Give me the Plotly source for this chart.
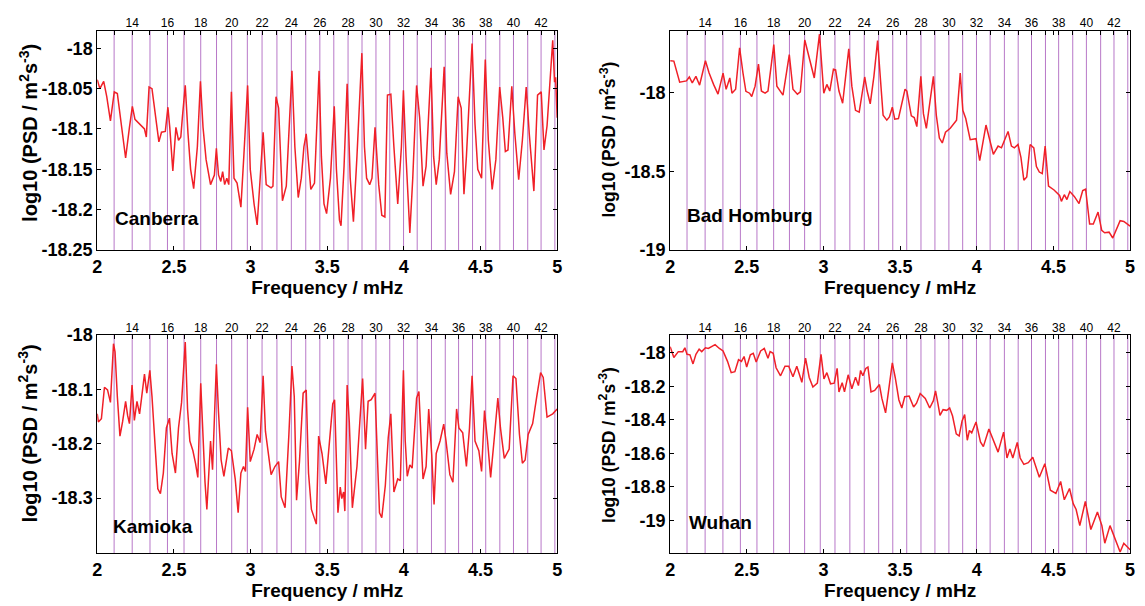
import plotly.graph_objects as go

# ---------------- data ----------------
mode_freqs = [2.110, 2.228, 2.344, 2.458, 2.566, 2.675, 2.778, 2.877, 2.979, 3.075,
              3.172, 3.266, 3.360, 3.452, 3.543, 3.636, 3.727, 3.818, 3.908, 3.998,
              4.087, 4.180, 4.270, 4.357, 4.448, 4.534, 4.626, 4.715, 4.808, 4.895, 4.985]
mode_labels = ["", "14", "", "16", "", "18", "", "20", "", "22", "", "24", "", "26", "",
               "28", "", "30", "", "32", "", "34", "", "36", "", "38", "", "40", "", "42", ""]

x_tick_vals = [2, 2.5, 3, 3.5, 4, 4.5, 5]
x_tick_text = ["2", "2.5", "3", "3.5", "4", "4.5", "5"]

canberra = [
    (2.000, -18.039), (2.017, -18.050), (2.042, -18.041), (2.062, -18.060), (2.086, -18.090),
    (2.111, -18.054), (2.131, -18.056), (2.160, -18.098), (2.185, -18.136), (2.210, -18.098),
    (2.229, -18.072), (2.246, -18.088), (2.283, -18.096), (2.308, -18.100), (2.320, -18.110),
    (2.338, -18.048), (2.357, -18.050), (2.382, -18.086), (2.402, -18.116), (2.419, -18.104),
    (2.444, -18.103), (2.461, -18.073), (2.473, -18.098), (2.493, -18.152), (2.513, -18.098),
    (2.530, -18.114), (2.545, -18.110), (2.555, -18.086), (2.574, -18.046), (2.592, -18.106),
    (2.609, -18.150), (2.629, -18.174), (2.653, -18.122), (2.673, -18.041), (2.690, -18.098),
    (2.710, -18.138), (2.739, -18.169), (2.764, -18.157), (2.777, -18.124), (2.791, -18.157),
    (2.806, -18.165), (2.818, -18.153), (2.831, -18.169), (2.845, -18.161), (2.858, -18.169),
    (2.875, -18.054), (2.892, -18.161), (2.912, -18.167), (2.937, -18.197), (2.956, -18.134),
    (2.981, -18.046), (2.998, -18.150), (3.023, -18.193), (3.043, -18.219), (3.062, -18.165),
    (3.082, -18.104), (3.102, -18.169), (3.134, -18.173), (3.146, -18.171), (3.166, -18.060),
    (3.183, -18.074), (3.208, -18.189), (3.233, -18.171), (3.250, -18.106), (3.270, -18.028),
    (3.289, -18.122), (3.311, -18.185), (3.331, -18.161), (3.348, -18.122), (3.363, -18.106),
    (3.375, -18.138), (3.393, -18.175), (3.417, -18.167), (3.447, -18.028), (3.462, -18.134),
    (3.479, -18.193), (3.496, -18.205), (3.521, -18.161), (3.546, -18.072), (3.560, -18.150),
    (3.580, -18.213), (3.590, -18.220), (3.610, -18.146), (3.630, -18.044), (3.650, -18.161),
    (3.671, -18.215), (3.694, -18.134), (3.726, -18.006), (3.743, -18.122), (3.757, -18.161),
    (3.777, -18.169), (3.792, -18.161), (3.812, -18.098), (3.836, -18.169), (3.856, -18.207),
    (3.876, -18.209), (3.893, -18.058), (3.915, -18.057), (3.935, -18.122), (3.960, -18.193),
    (3.984, -18.122), (3.997, -18.052), (4.014, -18.134), (4.039, -18.229), (4.058, -18.161),
    (4.083, -18.046), (4.103, -18.086), (4.125, -18.171), (4.145, -18.146), (4.177, -18.024),
    (4.194, -18.134), (4.211, -18.169), (4.231, -18.138), (4.263, -18.023), (4.280, -18.130),
    (4.305, -18.181), (4.330, -18.153), (4.354, -18.060), (4.374, -18.074), (4.392, -18.181),
    (4.408, -18.134), (4.445, -17.994), (4.464, -18.094), (4.482, -18.150), (4.507, -18.161),
    (4.531, -18.014), (4.551, -18.114), (4.576, -18.175), (4.600, -18.138), (4.625, -18.048),
    (4.645, -18.086), (4.662, -18.128), (4.679, -18.126), (4.704, -18.047), (4.724, -18.106),
    (4.749, -18.163), (4.773, -18.114), (4.798, -18.048), (4.818, -18.106), (4.848, -18.177),
    (4.872, -18.058), (4.896, -18.054), (4.914, -18.126), (4.934, -18.096), (4.971, -17.990),
    (4.983, -18.042), (4.990, -18.036), (5.000, -18.086),
]

bad_homburg = [
    (2.000, -17.798), (2.024, -17.800), (2.062, -17.934), (2.106, -17.926), (2.125, -17.901),
    (2.144, -17.938), (2.168, -17.897), (2.192, -17.953), (2.230, -17.798), (2.254, -17.876),
    (2.283, -17.948), (2.312, -18.010), (2.345, -17.876), (2.365, -17.979), (2.389, -17.907),
    (2.403, -18.004), (2.427, -17.979), (2.453, -17.715), (2.475, -17.876), (2.494, -17.992),
    (2.518, -18.004), (2.532, -18.025), (2.554, -17.959), (2.576, -17.819), (2.595, -17.990),
    (2.619, -18.004), (2.638, -17.990), (2.676, -17.695), (2.696, -17.959), (2.736, -18.016),
    (2.777, -17.759), (2.801, -17.979), (2.830, -18.010), (2.849, -17.996), (2.878, -17.666),
    (2.909, -17.790), (2.940, -17.907), (2.974, -17.629), (2.993, -17.856), (3.002, -18.004),
    (3.022, -17.948), (3.041, -17.990), (3.065, -17.852), (3.079, -17.856), (3.101, -17.990),
    (3.125, -18.068), (3.165, -17.722), (3.185, -17.959), (3.209, -18.113), (3.233, -18.124),
    (3.269, -17.901), (3.285, -17.990), (3.305, -18.072), (3.329, -17.897), (3.353, -17.670),
    (3.372, -17.897), (3.389, -18.144), (3.413, -18.175), (3.430, -18.155), (3.449, -18.093),
    (3.465, -18.169), (3.489, -18.165), (3.532, -17.979), (3.544, -17.990), (3.573, -18.148),
    (3.592, -18.159), (3.609, -18.216), (3.635, -17.897), (3.652, -18.134), (3.671, -18.227),
    (3.693, -18.082), (3.717, -17.897), (3.736, -18.144), (3.756, -18.289), (3.775, -18.320),
    (3.796, -18.252), (3.827, -18.227), (3.868, -18.175), (3.892, -17.876), (3.909, -18.113),
    (3.928, -18.165), (3.957, -18.299), (3.995, -18.293), (4.019, -18.433), (4.060, -18.206),
    (4.084, -18.309), (4.108, -18.392), (4.139, -18.340), (4.161, -18.351), (4.204, -18.247),
    (4.226, -18.340), (4.245, -18.351), (4.269, -18.330), (4.288, -18.412), (4.307, -18.557),
    (4.326, -18.536), (4.348, -18.330), (4.372, -18.351), (4.389, -18.470), (4.408, -18.505),
    (4.427, -18.515), (4.446, -18.340), (4.468, -18.594), (4.504, -18.619), (4.540, -18.654),
    (4.552, -18.691), (4.571, -18.649), (4.588, -18.680), (4.607, -18.629), (4.636, -18.660),
    (4.667, -18.705), (4.691, -18.623), (4.710, -18.614), (4.736, -18.835), (4.760, -18.835),
    (4.791, -18.759), (4.815, -18.876), (4.834, -18.891), (4.863, -18.887), (4.887, -18.924),
    (4.906, -18.876), (4.935, -18.814), (4.959, -18.819), (5.000, -18.849),
]

kamioka = [
    (2.000, -18.145), (2.007, -18.160), (2.027, -18.154), (2.047, -18.096), (2.067, -18.101),
    (2.086, -18.124), (2.106, -18.016), (2.116, -18.031), (2.131, -18.113), (2.148, -18.186),
    (2.165, -18.160), (2.185, -18.122), (2.198, -18.148), (2.210, -18.163), (2.227, -18.092),
    (2.242, -18.157), (2.259, -18.122), (2.276, -18.145), (2.289, -18.116), (2.308, -18.072),
    (2.323, -18.107), (2.343, -18.065), (2.357, -18.113), (2.377, -18.213), (2.395, -18.283),
    (2.412, -18.292), (2.431, -18.254), (2.451, -18.171), (2.471, -18.153), (2.488, -18.218),
    (2.510, -18.254), (2.530, -18.171), (2.550, -18.124), (2.574, -18.013), (2.589, -18.136),
    (2.604, -18.195), (2.624, -18.213), (2.641, -18.236), (2.656, -18.262), (2.675, -18.089),
    (2.690, -18.207), (2.703, -18.271), (2.715, -18.321), (2.730, -18.248), (2.739, -18.195),
    (2.752, -18.248), (2.764, -18.157), (2.777, -18.054), (2.791, -18.142), (2.808, -18.230),
    (2.826, -18.260), (2.841, -18.230), (2.855, -18.208), (2.875, -18.213), (2.900, -18.265),
    (2.919, -18.327), (2.937, -18.254), (2.954, -18.242), (2.967, -18.251), (2.981, -18.133),
    (2.998, -18.233), (3.023, -18.210), (3.043, -18.183), (3.062, -18.198), (3.082, -18.075),
    (3.097, -18.177), (3.117, -18.218), (3.134, -18.257), (3.159, -18.242), (3.183, -18.233),
    (3.200, -18.298), (3.225, -18.318), (3.250, -18.183), (3.270, -18.057), (3.285, -18.113),
    (3.300, -18.304), (3.319, -18.233), (3.343, -18.107), (3.363, -18.101), (3.378, -18.254),
    (3.397, -18.321), (3.417, -18.336), (3.429, -18.348), (3.444, -18.186), (3.466, -18.218),
    (3.491, -18.274), (3.511, -18.201), (3.536, -18.127), (3.548, -18.119), (3.560, -18.260),
    (3.570, -18.327), (3.585, -18.280), (3.595, -18.301), (3.607, -18.289), (3.615, -18.324),
    (3.630, -18.092), (3.644, -18.160), (3.664, -18.318), (3.694, -18.242), (3.731, -18.080),
    (3.740, -18.160), (3.750, -18.210), (3.767, -18.122), (3.787, -18.119), (3.812, -18.107),
    (3.824, -18.207), (3.841, -18.327), (3.856, -18.336), (3.879, -18.277), (3.898, -18.189),
    (3.915, -18.145), (3.935, -18.289), (3.960, -18.265), (3.977, -18.268), (3.997, -18.065),
    (4.009, -18.195), (4.022, -18.260), (4.039, -18.239), (4.054, -18.245), (4.083, -18.116),
    (4.098, -18.104), (4.113, -18.195), (4.125, -18.265), (4.145, -18.242), (4.162, -18.136),
    (4.182, -18.221), (4.197, -18.312), (4.211, -18.218), (4.236, -18.195), (4.260, -18.164),
    (4.275, -18.195), (4.300, -18.257), (4.320, -18.271), (4.344, -18.136), (4.359, -18.171),
    (4.384, -18.180), (4.408, -18.242), (4.428, -18.171), (4.445, -18.075), (4.464, -18.195),
    (4.489, -18.213), (4.507, -18.251), (4.526, -18.139), (4.546, -18.195), (4.566, -18.262),
    (4.588, -18.195), (4.613, -18.116), (4.630, -18.171), (4.655, -18.227), (4.687, -18.210),
    (4.712, -18.075), (4.731, -18.080), (4.754, -18.183), (4.773, -18.236), (4.791, -18.230),
    (4.811, -18.183), (4.840, -18.163), (4.867, -18.113), (4.892, -18.069), (4.909, -18.078),
    (4.934, -18.151), (4.971, -18.145), (5.000, -18.136),
]

wuhan = [
    (2.000, -17.965), (2.024, -18.029), (2.053, -17.994), (2.082, -17.994), (2.096, -17.971),
    (2.110, -18.010), (2.129, -18.013), (2.149, -18.067), (2.168, -18.010), (2.189, -17.979),
    (2.206, -17.994), (2.230, -17.971), (2.249, -17.975), (2.293, -17.952), (2.321, -17.975),
    (2.345, -17.990), (2.374, -18.052), (2.398, -18.119), (2.422, -18.113), (2.446, -18.042),
    (2.465, -18.052), (2.482, -18.023), (2.499, -18.086), (2.523, -18.013), (2.542, -18.004),
    (2.561, -18.056), (2.590, -17.990), (2.614, -17.975), (2.638, -18.033), (2.652, -17.994),
    (2.672, -18.004), (2.691, -18.090), (2.720, -18.138), (2.749, -18.081), (2.773, -18.081),
    (2.801, -18.144), (2.826, -18.081), (2.859, -18.177), (2.883, -18.033), (2.907, -18.148),
    (2.931, -18.205), (2.960, -18.182), (2.984, -18.010), (3.003, -18.157), (3.022, -18.119),
    (3.046, -18.186), (3.070, -18.182), (3.089, -18.094), (3.101, -18.234), (3.122, -18.179),
    (3.137, -18.234), (3.161, -18.132), (3.185, -18.215), (3.209, -18.146), (3.228, -18.196),
    (3.242, -18.106), (3.257, -18.138), (3.276, -18.094), (3.290, -18.086), (3.310, -18.234),
    (3.334, -18.225), (3.365, -18.190), (3.381, -18.273), (3.405, -18.359), (3.425, -18.225),
    (3.449, -18.061), (3.468, -18.148), (3.492, -18.282), (3.511, -18.330), (3.530, -18.263),
    (3.559, -18.259), (3.588, -18.324), (3.607, -18.301), (3.631, -18.244), (3.664, -18.273),
    (3.693, -18.330), (3.717, -18.286), (3.731, -18.228), (3.746, -18.301), (3.760, -18.374),
    (3.780, -18.340), (3.804, -18.344), (3.823, -18.330), (3.842, -18.378), (3.866, -18.484),
    (3.885, -18.497), (3.904, -18.407), (3.921, -18.369), (3.938, -18.522), (3.952, -18.464),
    (3.967, -18.478), (3.995, -18.413), (4.024, -18.532), (4.043, -18.560), (4.079, -18.455),
    (4.115, -18.541), (4.139, -18.593), (4.175, -18.474), (4.197, -18.628), (4.216, -18.574),
    (4.235, -18.628), (4.264, -18.535), (4.283, -18.628), (4.307, -18.666), (4.336, -18.656),
    (4.365, -18.624), (4.384, -18.676), (4.408, -18.743), (4.444, -18.662), (4.480, -18.820),
    (4.516, -18.839), (4.547, -18.768), (4.571, -18.877), (4.605, -18.810), (4.629, -18.900),
    (4.648, -18.935), (4.672, -19.031), (4.708, -18.887), (4.744, -19.054), (4.787, -18.950),
    (4.816, -19.031), (4.835, -19.136), (4.869, -19.031), (4.888, -19.073), (4.907, -19.117),
    (4.935, -19.188), (4.959, -19.136), (4.983, -19.161), (5.000, -19.175),
]

station_names = ["Canberra", "Bad Homburg", "Kamioka", "Wuhan"]
y_ranges = [[-18.25, -17.978], [-19.0, -17.606], [-18.402, -18.0], [-19.197, -17.895]]
y_tick_vals = [
    [-18.25, -18.2, -18.15, -18.1, -18.05, -18.0],
    [-19.0, -18.5, -18.0],
    [-18.3, -18.2, -18.1, -18.0],
    [-19.0, -18.8, -18.6, -18.4, -18.2, -18.0],
]
y_tick_text = [
    ["-18.25", "-18.2", "-18.15", "-18.1", "-18.05", "-18"],
    ["-19", "-18.5", "-18"],
    ["-18.3", "-18.2", "-18.1", "-18"],
    ["-19", "-18.8", "-18.6", "-18.4", "-18.2", "-18"],
]
series = [canberra, bad_homburg, kamioka, wuhan]
y_title = "log10 (PSD / m<sup>2</sup>s<sup>-3</sup>)"
x_title = "Frequency / mHz"

# ---------------- layout geometry (page pixels) ----------------
# the page body adds an 8 px margin, so the figure is sized/offset to compensate
OFF = 8
W, H = 1145 - OFF, 606 - OFF


def px(x):
    return (x - OFF) / W


def py(y):
    return 1 - (y - OFF) / H


x_doms = [[px(93), px(557)], [px(671), px(1135)], [px(93), px(557)], [px(671), px(1135)]]
y_doms = [[py(248), py(21)], [py(248), py(21)], [py(562), py(336)], [py(562), py(336)]]
label_pos = [(0.035, 0.145), (0.032, 0.159), (0.030, 0.124), (0.037, 0.142)]
ytitle_pos = [(23, 127, 20), (608, 134, 17.5), (23, 438, 20), (608, 450, 17.5)]

FONT = "Arial, Liberation Sans, sans-serif"
RED = "rgb(240,32,40)"
PURPLE = "rgb(184,120,200)"

fig = go.Figure()
layout = dict(
    width=W, height=H, margin=dict(l=0, r=0, t=0, b=0),
    paper_bgcolor="white", plot_bgcolor="white", showlegend=False,
    font=dict(family=FONT, color="black"),
)
shapes = []
annotations = []

for i in range(4):
    n = i + 1
    xa = "x" if n == 1 else f"x{n}"
    ya = "y" if n == 1 else f"y{n}"
    xt = f"x{n + 4}"
    fx = [p[0] for p in series[i]]
    fy = [p[1] for p in series[i]]

    fig.add_trace(go.Scatter(x=fx, y=fy, xaxis=xa, yaxis=ya, mode="lines",
                             line=dict(color=RED, width=1.5), hoverinfo="x+y"))
    # invisible trace that registers the top (mode-number) axis
    fig.add_trace(go.Scatter(x=mode_freqs, y=[y_ranges[i][0]] * len(mode_freqs),
                             xaxis=xt, yaxis=ya, mode="markers",
                             marker=dict(opacity=0, size=1), hoverinfo="skip"))

    for f in mode_freqs:
        shapes.append(dict(type="line", xref=xa, yref=f"{ya} domain", x0=f, x1=f,
                           y0=0, y1=1, layer="below",
                           line=dict(color=PURPLE, width=1)))

    axkey = "xaxis" if n == 1 else f"xaxis{n}"
    aykey = "yaxis" if n == 1 else f"yaxis{n}"
    layout[axkey] = dict(
        domain=x_doms[i], anchor=ya, range=[2, 5], tickvals=x_tick_vals, ticktext=x_tick_text,
        ticks="inside", ticklen=4, tickcolor="black", showline=True, linecolor="black",
        linewidth=1, mirror="ticks", showgrid=False, zeroline=False,
        tickfont=dict(size=18, weight="bold", family=FONT),
        title=dict(text=x_title, font=dict(size=19, weight="bold", family=FONT),
                   standoff=0),
    )
    layout[aykey] = dict(
        domain=y_doms[i], anchor=xa, range=y_ranges[i], tickvals=y_tick_vals[i],
        ticktext=y_tick_text[i], ticks="inside", ticklen=4, tickcolor="black",
        showline=True, linecolor="black", linewidth=1, mirror="ticks",
        showgrid=False, zeroline=False,
        tickfont=dict(size=18, weight="bold", family=FONT),
    )
    layout[f"xaxis{n + 4}"] = dict(
        overlaying=xa, anchor=ya, side="top", range=[2, 5], tickvals=mode_freqs,
        ticktext=mode_labels, ticks="inside", ticklen=4, tickcolor="black",
        showline=False, showgrid=False, zeroline=False,
        tickfont=dict(size=12, family=FONT),
    )
    annotations.append(dict(
        text=station_names[i], xref=f"{xa} domain", yref=f"{ya} domain",
        x=label_pos[i][0], y=label_pos[i][1], xanchor="left", yanchor="middle",
        showarrow=False, font=dict(size=19, weight="bold", family=FONT),
    ))
    tx, ty, tsz = ytitle_pos[i]
    annotations.append(dict(
        text=y_title, xref="paper", yref="paper", x=px(tx), y=py(ty),
        xanchor="center", yanchor="middle", textangle=-90, showarrow=False,
        font=dict(size=tsz, weight="bold", family=FONT),
    ))

layout["shapes"] = shapes
layout["annotations"] = annotations
fig.update_layout(**layout)
fig.write_html("out.html", config={"displayModeBar": False})
